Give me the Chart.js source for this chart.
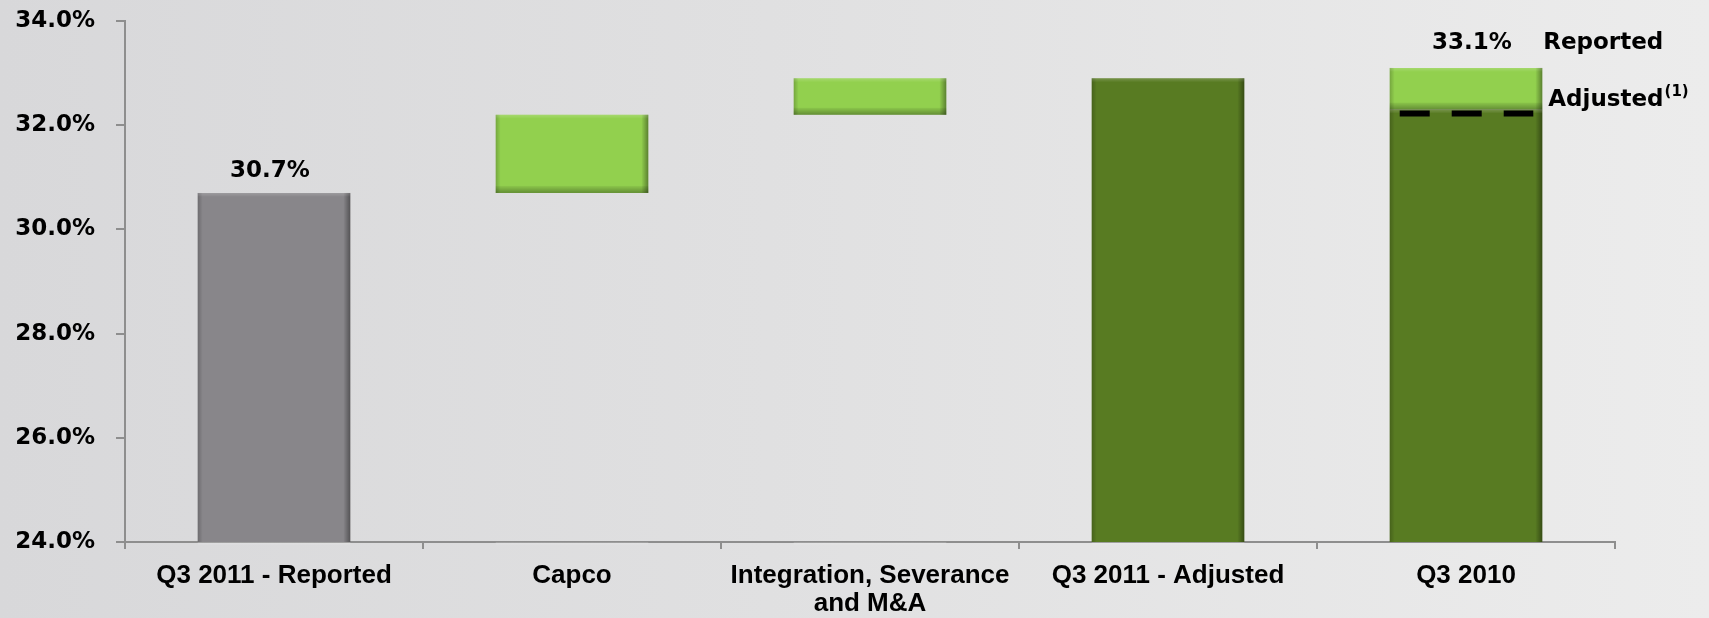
<!DOCTYPE html>
<html>
<head>
<meta charset="utf-8">
<script src="https://cdn.jsdelivr.net/npm/chart.js@4/dist/chart.umd.min.js"></script>
<style>
  html, body { margin: 0; padding: 0; }
  body { width: 1709px; height: 618px; background: linear-gradient(to right, #d8d8da 0%, #e0e0e1 45%, #ececec 100%); overflow: hidden; }
  #wrap { position: relative; width: 1709px; height: 618px; }
</style>
</head>
<body>
<div id="wrap"><canvas id="c" width="1709" height="618"></canvas></div>
<script>
// ---- data ----
const categories = ['Q3 2011 - Reported', 'Capco', ['Integration, Severance', 'and M&A'], 'Q3 2011 - Adjusted', 'Q3 2010'];
const barStart = [24.0, 30.7, 32.2, 24.0, 24.0];
const barEnd = [30.7, 32.2, 32.9, 32.9, 32.3];
const reportedStart = [null, null, null, null, 32.3];
const reportedEnd = [null, null, null, null, 33.1];
const yTicks = [24, 26, 28, 30, 32, 34];
const barLabels = ['30.7%', null, null, null, null];
const reportedLabel = '33.1%';
const reportedText = 'Reported';
const adjustedText = 'Adjusted';
const adjustedNote = '(1)';

// ---- styles ----
const GRAY = '#88868a';
const LIGHT = '#92d04e';
const DARK = '#587b22';
const barColors = [GRAY, LIGHT, LIGHT, DARK, DARK];
const AXIS = '#8e8e8e';
const ANN_FONT = 'bold 23px "DejaVu Sans"';

const mainData = barStart.map((s, i) => [s, barEnd[i]]);
const repData = reportedStart.map((s, i) => (s === null ? null : [s, reportedEnd[i]]));

const bevel = {
  id: 'bevel',
  afterDatasetsDraw(chart) {
    const ctx = chart.ctx;
    const yMin = chart.scales.y.getPixelForValue(yTicks[0]);
    chart.data.datasets.forEach((ds, di) => {
      chart.getDatasetMeta(di).data.forEach((el) => {
        if (!el || el.skip) return;
        const p = el.getProps(['x', 'y', 'base', 'width'], true);
        if (p.y == null || isNaN(p.y)) return;
        const l = p.x - p.width / 2, r = p.x + p.width / 2;
        const t = Math.min(p.y, p.base), b = Math.max(p.y, p.base);
        ctx.save();
        let g = ctx.createLinearGradient(r - 7, 0, r, 0);
        g.addColorStop(0, 'rgba(0,0,0,0)');
        g.addColorStop(1, 'rgba(0,0,0,0.38)');
        ctx.fillStyle = g;
        ctx.fillRect(r - 7, t, 7, b - t);
        g = ctx.createLinearGradient(l, 0, l + 5, 0);
        g.addColorStop(0, 'rgba(0,0,0,0.2)');
        g.addColorStop(1, 'rgba(0,0,0,0)');
        ctx.fillStyle = g;
        ctx.fillRect(l, t, 5, b - t);
        g = ctx.createLinearGradient(0, t, 0, t + 4);
        g.addColorStop(0, 'rgba(255,255,255,0.18)');
        g.addColorStop(1, 'rgba(255,255,255,0)');
        ctx.fillStyle = g;
        ctx.fillRect(l, t, r - l, 4);
        if (b < yMin - 1) {
          g = ctx.createLinearGradient(0, b - 7, 0, b);
          g.addColorStop(0, 'rgba(0,0,0,0.05)');
          g.addColorStop(1, 'rgba(0,0,0,0.32)');
          ctx.fillStyle = g;
          ctx.fillRect(l, b - 7, r - l, 7);
        }
        ctx.restore();
      });
    });
  }
};

const annotations = {
  id: 'annotations',
  afterDraw(chart) {
    const ctx = chart.ctx;
    const y = chart.scales.y;
    ctx.save();
    ctx.fillStyle = '#000';
    ctx.font = ANN_FONT;
    ctx.textBaseline = 'alphabetic';
    const m0 = chart.getDatasetMeta(0).data;
    barLabels.forEach((txt, i) => {
      if (!txt) return;
      const el = m0[i];
      ctx.textAlign = 'center';
      ctx.fillText(txt, el.x - 4, el.y - 16);
    });
    const el = chart.getDatasetMeta(1).data[4];
    const p = el.getProps(['x', 'y', 'base', 'width'], true);
    const l = p.x - p.width / 2, r = p.x + p.width / 2;
    ctx.textAlign = 'center';
    ctx.fillText(reportedLabel, p.x + 6, p.y - 19);
    ctx.textAlign = 'left';
    ctx.fillText(reportedText, r + 1, p.y - 19);
    const yAdj = y.getPixelForValue(barEnd[4]) + 4;
    ctx.fillText(adjustedText, r + 6, yAdj - 8);
    const w = ctx.measureText(adjustedText).width;
    ctx.font = 'bold 15px "DejaVu Sans"';
    ctx.fillText(adjustedNote, r + 6 + w + 1, yAdj - 18);
    ctx.beginPath();
    ctx.setLineDash([30, 22]);
    ctx.lineWidth = 6;
    ctx.strokeStyle = '#000';
    ctx.moveTo(l + 10, yAdj);
    ctx.lineTo(r - 9, yAdj);
    ctx.stroke();
    ctx.restore();
  }
};

new Chart(document.getElementById('c'), {
  type: 'bar',
  data: {
    labels: categories,
    datasets: [
      { data: mainData, backgroundColor: barColors, borderWidth: 0 },
      { data: repData, backgroundColor: LIGHT, borderWidth: 0 }
    ]
  },
  options: {
    responsive: false,
    animation: false,
    events: [],
    layout: { padding: { left: 0, right: 94, top: 21, bottom: 0 } },
    plugins: { legend: { display: false }, tooltip: { enabled: false } },
    datasets: { bar: { categoryPercentage: 1.0, barPercentage: 0.512, skipNull: true } },
    scales: {
      x: {
        stacked: true,
        grid: { offset: true, drawOnChartArea: false, drawTicks: true, tickLength: 7, color: AXIS, lineWidth: 2 },
        border: { color: AXIS, width: 2 },
        ticks: { color: '#000', font: { family: '"Liberation Sans", Arial, sans-serif', weight: 'bold', size: 26, lineHeight: 1.08 }, padding: 13, maxRotation: 0, autoSkip: false },
        afterFit(scale) { scale.height = 76; }
      },
      y: {
        min: yTicks[0],
        max: yTicks[yTicks.length - 1],
        afterBuildTicks(scale) { scale.ticks = yTicks.map(v => ({ value: v })); },
        grid: { drawOnChartArea: false, drawTicks: true, tickLength: 9, color: AXIS, lineWidth: 2 },
        border: { color: AXIS, width: 2 },
        ticks: { color: '#000', font: { family: '"DejaVu Sans", sans-serif', weight: 'bold', size: 23 }, padding: 21, callback: v => Number(v).toFixed(1) + '%' },
        afterFit(scale) { scale.width = 125; scale.paddingTop = 0; scale.paddingBottom = 0; }
      }
    }
  },
  plugins: [bevel, annotations]
});
</script>
</body>
</html>
